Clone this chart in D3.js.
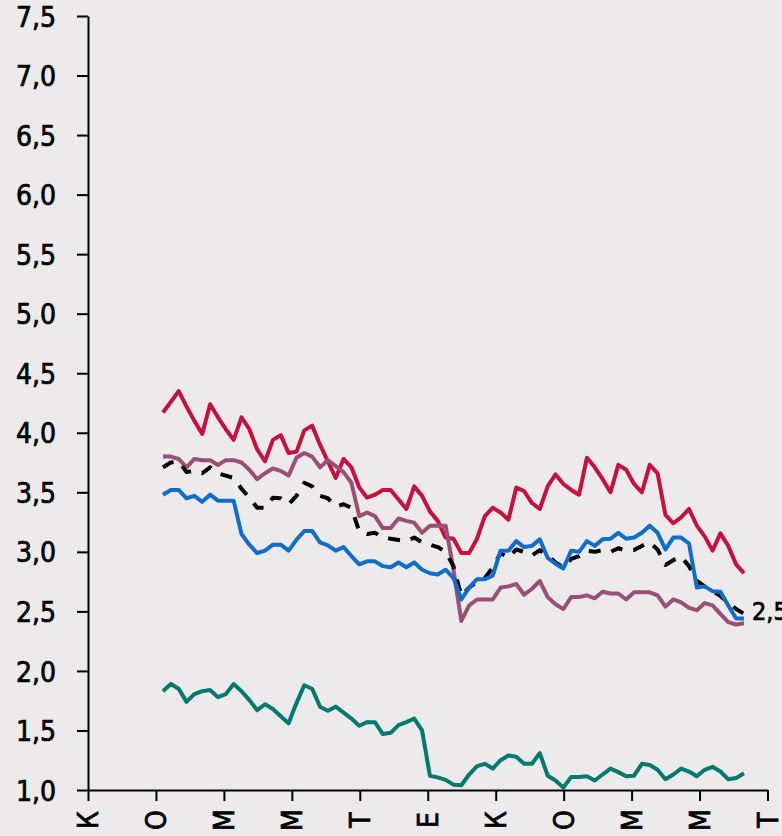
<!DOCTYPE html>
<html>
<head>
<meta charset="utf-8">
<script src="https://cdn.jsdelivr.net/npm/d3@7"></script>
<style>
body { margin: 0; background: #eceaeb; }
svg text { font-family: "DejaVu Sans Condensed", "DejaVu Sans", sans-serif; fill: #000; stroke: #000; stroke-width: 0.7px; }
</style>
</head>
<body>
<svg id="chart" width="782" height="836"></svg>
<script>
// month letters under the x axis
var monthLabels = ["К","О","М","М","Т","Е","К","О","М","М","Т"];
var yTicks = [1.0,1.5,2.0,2.5,3.0,3.5,4.0,4.5,5.0,5.5,6.0,6.5,7.0,7.5];

// weekly values, 75 points each
var red = [4.17,4.26,4.35,4.22,4.10,3.99,4.24,4.13,4.03,3.94,
           4.13,4.03,3.86,3.76,3.94,3.98,3.83,3.84,4.02,4.06,
           3.90,3.76,3.62,3.78,3.71,3.54,3.455,3.48,3.52,3.52,
           3.44,3.36,3.55,3.47,3.34,3.26,3.12,3.11,2.99,2.99,
           3.11,3.30,3.37,3.33,3.27,3.54,3.51,3.41,3.36,3.55,
           3.65,3.57,3.52,3.48,3.79,3.71,3.61,3.50,3.73,3.69,
           3.57,3.50,3.73,3.66,3.31,3.24,3.29,3.36,3.22,3.13,
           3.01,3.155,3.05,2.895,2.82];
var mauve = [3.80,3.80,3.78,3.71,3.78,3.77,3.77,3.73,3.77,3.77,
             3.75,3.69,3.61,3.66,3.70,3.68,3.64,3.79,3.83,3.80,
             3.71,3.77,3.72,3.67,3.58,3.30,3.33,3.30,3.20,3.20,
             3.28,3.26,3.245,3.16,3.22,3.22,3.22,2.85,2.42,2.55,
             2.60,2.60,2.60,2.70,2.71,2.73,2.64,2.69,2.755,2.62,
             2.56,2.52,2.62,2.62,2.635,2.61,2.665,2.65,2.65,2.60,
             2.66,2.66,2.66,2.635,2.54,2.60,2.575,2.53,2.51,2.57,
             2.55,2.48,2.41,2.39,2.40];
var avg = [3.71,3.75,3.76,3.67,3.68,3.66,3.71,3.66,3.64,3.62,
           3.53,3.455,3.37,3.37,3.455,3.45,3.40,3.47,3.58,3.55,
           3.47,3.45,3.38,3.40,3.37,3.17,3.15,3.16,3.12,3.11,
           3.10,3.09,3.12,3.08,3.06,3.04,3.00,2.88,2.63,2.70,
           2.75,2.78,2.87,2.99,2.95,3.02,3.00,2.97,3.015,2.97,
           2.91,2.87,2.94,2.965,3.01,3.00,3.015,3.00,3.03,3.01,
           3.015,3.05,3.08,3.02,2.89,2.93,2.96,2.88,2.755,2.71,
           2.67,2.63,2.57,2.52,2.48];
var blue = [3.48,3.52,3.52,3.45,3.47,3.42,3.48,3.43,3.43,3.43,
            3.15,3.06,2.99,3.01,3.06,3.06,3.01,3.10,3.175,3.175,
            3.08,3.055,3.01,3.04,2.965,2.895,2.92,2.92,2.88,2.87,
            2.91,2.87,2.91,2.85,2.82,2.81,2.85,2.78,2.60,2.70,
            2.77,2.77,2.80,3.01,3.01,3.09,3.04,3.05,3.105,2.95,
            2.90,2.86,3.01,3.00,3.09,3.05,3.105,3.11,3.16,3.11,
            3.12,3.16,3.22,3.16,3.02,3.12,3.12,3.07,2.70,2.71,
            2.67,2.665,2.55,2.44,2.44];
var teal = [1.83,1.89,1.85,1.74,1.805,1.83,1.84,1.78,1.805,1.89,
            1.83,1.755,1.67,1.72,1.68,1.62,1.56,1.73,1.88,1.85,
            1.70,1.665,1.70,1.65,1.60,1.54,1.57,1.57,1.47,1.48,
            1.545,1.57,1.60,1.50,1.12,1.106,1.085,1.045,1.04,1.13,
            1.20,1.22,1.18,1.25,1.29,1.28,1.22,1.22,1.31,1.12,
            1.08,1.02,1.11,1.11,1.115,1.08,1.13,1.18,1.15,1.115,
            1.12,1.22,1.21,1.17,1.09,1.13,1.18,1.155,1.115,1.17,
            1.195,1.155,1.09,1.10,1.14];
var endLabel = "2,5";

var svg = d3.select("#chart");
svg.append("rect").attr("width", 782).attr("height", 836).attr("fill", "#eceaeb");

// x in weeks: point i sits at week i, axis runs from weekStart to weekEnd
var weekStart = -9.55, weekEnd = 77.0;
var x = d3.scaleLinear().domain([weekStart, weekEnd]).range([88, 767.5]);
var y = d3.scaleLinear().domain([1, 7.5]).range([790, 16]);
var tickWeeks = monthLabels.map(function(d, i){ return weekStart + i * (weekEnd - weekStart) / 10; });

var yAxis = d3.axisLeft(y)
    .tickValues(yTicks)
    .tickFormat(function(d){ return d3.format(".1f")(d).replace(".", ","); })
    .tickSize(11).tickSizeOuter(0).tickPadding(21);
var gy = svg.append("g").attr("transform", "translate(88,0)").call(yAxis);
gy.selectAll("text").attr("font-size", 28).attr("dy", "0.36em")
    .style("font-family", '"DejaVu Sans Condensed", "DejaVu Sans", sans-serif');

var xAxis = d3.axisBottom(x).tickValues(tickWeeks).tickSize(11).tickSizeOuter(0).tickFormat("");
var gx = svg.append("g").attr("transform", "translate(0,790)").call(xAxis);

svg.selectAll(".domain").attr("stroke", "#000").attr("stroke-width", 2);
svg.selectAll(".tick line").attr("stroke", "#000").attr("stroke-width", 2);

svg.append("g").selectAll("text").data(monthLabels).enter().append("text")
    .attr("transform", function(d, i){ return "translate(" + x(tickWeeks[i]) + ",820) rotate(-90)"; })
    .attr("text-anchor", "middle")
    .attr("dy", "0.36em")
    .attr("font-size", 28)
    .text(function(d){ return d; });

var line = d3.line()
    .x(function(d, i){ return x(i); })
    .y(function(d){ return y(d); });

var series = [
  {data: red,   color: "#c8103f", dash: null},
  {data: mauve, color: "#9b4f77", dash: null},
  {data: teal,  color: "#047a6e", dash: null},
  {data: avg,   color: "#000000", dash: "12,11"},
  {data: blue,  color: "#106ec8", dash: null}
];

svg.append("g").selectAll("path").data(series).enter().append("path")
    .attr("d", function(s){ return line(s.data); })
    .attr("fill", "none")
    .attr("stroke", function(s){ return s.color; })
    .attr("stroke-width", 4)
    .attr("stroke-linejoin", "round")
    .attr("stroke-dasharray", function(s){ return s.dash; });

svg.append("text")
    .attr("x", x(avg.length - 1) + 8)
    .attr("y", y(avg[avg.length - 1]) - 3)
    .attr("dy", "0.36em")
    .attr("font-size", 25)
    .text(endLabel);
</script>
</body>
</html>
